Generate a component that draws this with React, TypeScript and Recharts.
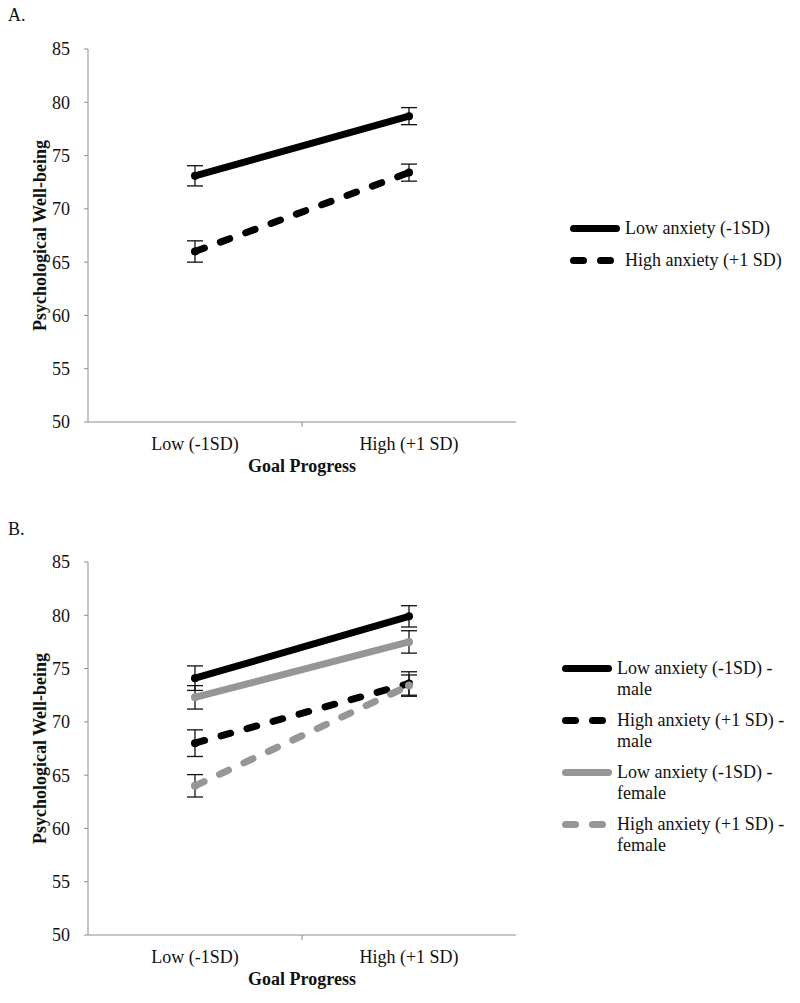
import React from 'react';
import { LineChart, Line, XAxis, YAxis, ErrorBar, Legend } from 'recharts';

// ---------- data ----------
const categories = ['Low (-1SD)', 'High (+1 SD)'];
const yTicks = [50, 55, 60, 65, 70, 75, 80, 85];

// Panel A
const seriesNamesA = ['Low anxiety (-1SD)', 'High anxiety (+1 SD)'];
const lowAnxA = [73.1, 78.7];
const lowAnxAErr = [0.95, 0.8];
const highAnxA = [66.0, 73.4];
const highAnxAErr = [1.0, 0.8];

// Panel B
const seriesNamesB = [
  'Low anxiety (-1SD) - male',
  'High anxiety (+1 SD) - male',
  'Low anxiety (-1SD) - female',
  'High anxiety (+1 SD) - female',
];
const lowAnxMaleB = [74.1, 79.9];
const lowAnxMaleBErr = [1.15, 1.0];
const highAnxMaleB = [68.0, 73.6];
const highAnxMaleBErr = [1.25, 1.1];
const lowAnxFemaleB = [72.3, 77.5];
const lowAnxFemaleBErr = [1.1, 1.05];
const highAnxFemaleB = [64.0, 73.4];
const highAnxFemaleBErr = [1.05, 1.0];

const dataA = categories.map((c, i) => ({
  progress: c,
  low: lowAnxA[i],
  lowErr: lowAnxAErr[i],
  high: highAnxA[i],
  highErr: highAnxAErr[i],
}));

const dataB = categories.map((c, i) => ({
  progress: c,
  lowM: lowAnxMaleB[i],
  lowMErr: lowAnxMaleBErr[i],
  highM: highAnxMaleB[i],
  highMErr: highAnxMaleBErr[i],
  lowF: lowAnxFemaleB[i],
  lowFErr: lowAnxFemaleBErr[i],
  highF: highAnxFemaleB[i],
  highFErr: highAnxFemaleBErr[i],
}));

// ---------- styles ----------
const FONT = '"Liberation Serif", "Times New Roman", serif';
const BLACK = '#000000';
const GRAY = '#969696';
const AXIS = '#8c8c8c';
const TEXT = '#111111';
const DASH = '10 17';
const LW = 7;

type SeriesStyle = { key: string; errKey: string; name: string; color: string; dashed: boolean };

const stylesA: SeriesStyle[] = [
  { key: 'low', errKey: 'lowErr', name: seriesNamesA[0], color: BLACK, dashed: false },
  { key: 'high', errKey: 'highErr', name: seriesNamesA[1], color: BLACK, dashed: true },
];
const stylesB: SeriesStyle[] = [
  { key: 'lowM', errKey: 'lowMErr', name: seriesNamesB[0], color: BLACK, dashed: false },
  { key: 'highM', errKey: 'highMErr', name: seriesNamesB[1], color: BLACK, dashed: true },
  { key: 'lowF', errKey: 'lowFErr', name: seriesNamesB[2], color: GRAY, dashed: false },
  { key: 'highF', errKey: 'highFErr', name: seriesNamesB[3], color: GRAY, dashed: true },
];

const XTick = (props: any) => {
  const { x, y, payload, index } = props;
  const off = payload && payload.offset ? payload.offset : 107;
  return (
    <g>
      {index === 0 && (
        <line x1={x + off} x2={x + off} y1={y - 15} y2={y - 10} stroke={AXIS} strokeWidth={1} />
      )}
      <text x={x} y={y} dy="0.71em" textAnchor="middle" fill={TEXT} fontSize={18} fontFamily={FONT}>
        {payload.value}
      </text>
    </g>
  );
};

const YLabel = (props: any) => {
  const vb = props.viewBox || {};
  const cx = 40;
  const cy = (vb.y || 0) + (vb.height || 0) / 2;
  return (
    <text
      x={cx}
      y={cy}
      transform={`rotate(-90, ${cx}, ${cy})`}
      textAnchor="middle"
      dominantBaseline="central"
      fontFamily={FONT}
      fontSize={18}
      fontWeight="bold"
      fill={TEXT}
    >
      Psychological Well-being
    </text>
  );
};

const XLabel = (props: any) => {
  const vb = props.viewBox || {};
  const cx = (vb.x || 0) + (vb.width || 0) / 2;
  const cy = (vb.y || 0) + 44;
  return (
    <text
      x={cx}
      y={cy}
      textAnchor="middle"
      dominantBaseline="central"
      fontFamily={FONT}
      fontSize={18}
      fontWeight="bold"
      fill={TEXT}
    >
      Goal Progress
    </text>
  );
};

const makeLegend = (styles: SeriesStyle[], twoLine: boolean) => () => (
  <div style={{ fontFamily: FONT, fontSize: 18, color: TEXT, lineHeight: '21px' }}>
    {styles.map((s) => {
      const idx = s.name.lastIndexOf(' - ');
      const lines = twoLine && idx > 0 ? [s.name.slice(0, idx) + ' -', s.name.slice(idx + 3)] : [s.name];
      return (
        <div
          key={s.key}
          style={{ display: 'flex', alignItems: 'flex-start', marginBottom: twoLine ? 10 : 11 }}
        >
          <svg width={59} height={21} style={{ flex: 'none' }}>
            <line
              x1={7.5}
              x2={50.5}
              y1={10.5}
              y2={10.5}
              stroke={s.color}
              strokeWidth={LW}
              strokeLinecap="round"
              strokeDasharray={s.dashed ? DASH : undefined}
            />
          </svg>
          <div style={{ whiteSpace: 'nowrap' }}>
            {lines.map((l, i) => (
              <div key={i}>{l}</div>
            ))}
          </div>
        </div>
      );
    })}
  </div>
);

const renderSeries = (styles: SeriesStyle[]) =>
  styles.map((s) => (
    <Line
      key={s.key}
      type="linear"
      dataKey={s.key}
      name={s.name}
      stroke={s.color}
      strokeWidth={LW}
      strokeLinecap="round"
      strokeDasharray={s.dashed ? DASH : undefined}
      dot={{ r: 4, fill: s.color, stroke: 'none', strokeWidth: 0 }}
      activeDot={false}
      isAnimationActive={false}
    >
      <ErrorBar dataKey={s.errKey} direction="y" width={8} stroke="#111" strokeWidth={1.3} />
    </Line>
  ));

const Panel = ({
  data,
  styles,
  height,
  marginBottom,
  legendLeft,
  legendTop,
  twoLine,
}: {
  data: any[];
  styles: SeriesStyle[];
  height: number;
  marginBottom: number;
  legendLeft: number;
  legendTop: number;
  twoLine: boolean;
}) => (
  <LineChart width={800} height={height} data={data} margin={{ top: 49, left: 28, right: 284, bottom: marginBottom }}>
    <XAxis
      dataKey="progress"
      type="category"
      scale="band"
      stroke={AXIS}
      tickLine={false}
      tickSize={6}
      tickMargin={9}
      height={60}
      tick={<XTick />}
      label={<XLabel />}
      interval={0}
    />
    <YAxis
      type="number"
      domain={[50, 85]}
      ticks={yTicks}
      allowDataOverflow
      stroke={AXIS}
      tickSize={4}
      tickMargin={14}
      width={60}
      tick={{ fill: TEXT, fontSize: 18, fontFamily: FONT }}
      label={<YLabel />}
    />
    <Legend
      layout="vertical"
      align="center"
      verticalAlign="middle"
      content={makeLegend(styles, twoLine)}
      wrapperStyle={{ left: legendLeft, top: legendTop, width: 240 }}
    />
    {renderSeries(styles)}
  </LineChart>
);

export default function App() {
  return (
    <div style={{ position: 'relative', width: 800, height: 1003, overflow: 'hidden', background: '#fff' }}>
      <style>{`body{margin:0;background:#fff}`}</style>
      <div style={{ position: 'absolute', left: 0, top: 0 }}>
        <Panel
          data={dataA}
          styles={stylesA}
          height={513}
          marginBottom={31}
          legendLeft={566}
          legendTop={218}
          twoLine={false}
        />
      </div>
      <div style={{ position: 'absolute', left: 0, top: 513 }}>
        <Panel
          data={dataB}
          styles={stylesB}
          height={490}
          marginBottom={8}
          legendLeft={558}
          legendTop={145}
          twoLine={true}
        />
      </div>
      <div style={{ position: 'absolute', left: 8, top: 5, fontFamily: FONT, fontSize: 18, lineHeight: '20px', color: TEXT }}>
        A.
      </div>
      <div style={{ position: 'absolute', left: 8, top: 519, fontFamily: FONT, fontSize: 18, lineHeight: '20px', color: TEXT }}>
        B.
      </div>
    </div>
  );
}
